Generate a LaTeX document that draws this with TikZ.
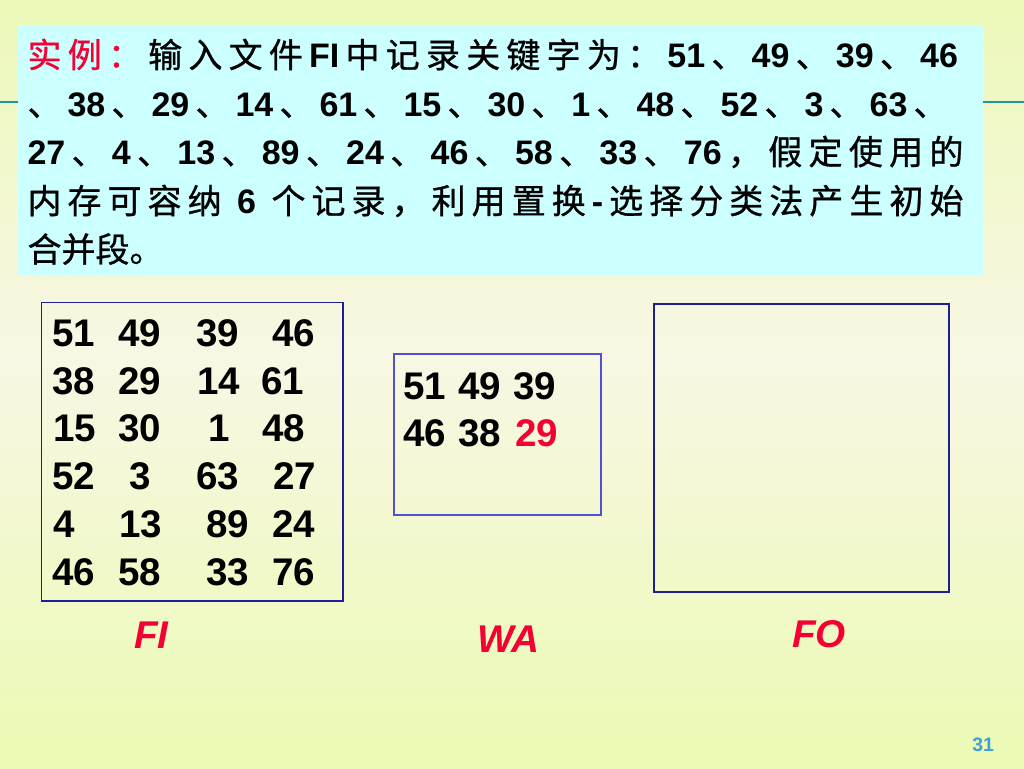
\documentclass[tikz,border=0pt]{standalone}
\usepackage{fontspec}
\setmainfont{Liberation Sans}
\newfontfamily\cjk{Noto Sans CJK SC}[FakeBold=0.8]
\newfontfamily\lsb{Liberation Sans}
\definecolor{tred}{RGB}{245,0,50}
\definecolor{cyanbg}{RGB}{204,255,255}
\definecolor{teal1}{RGB}{30,150,165}
\definecolor{boxblue}{RGB}{30,30,150}
\definecolor{wablue}{RGB}{80,80,210}
\definecolor{pgblue}{RGB}{60,160,220}
\definecolor{bgtop}{RGB}{226,250,150}
\definecolor{bgmid}{RGB}{248,247,228}
\definecolor{bgbot}{RGB}{226,252,148}
\pgfdeclareverticalshading{bgshade}{100bp}{color(0bp)=(bgbot); color(8bp)=(bgbot); color(52bp)=(bgmid); color(93bp)=(bgtop); color(100bp)=(bgtop)}
\newdimen\px \px=0.75pt
\newcommand\nb[1]{{\lsb\bfseries #1}}
\newcommand\rd[1]{{\color{tred}#1}}
\def\jtend{JTEND}
\def\jt#1{\jtA#1\jtend}
\def\jtA#1{#1\jtB}
\def\jtB#1{\ifx\jtend#1\else\hfil#1\expandafter\jtB\fi}
\tikzset{
  tline/.style={anchor=base west, inner sep=0pt, outer sep=0pt, font=\cjk\fontsize{25.5pt}{30pt}\selectfont},
  fnum/.style={anchor=base west, inner sep=0pt, outer sep=0pt, font=\lsb\bfseries\fontsize{28.9pt}{34pt}\selectfont},
  lbl/.style={anchor=base west, inner sep=0pt, outer sep=0pt, text=tred, font=\lsb\bfseries\itshape\fontsize{29pt}{34pt}\selectfont},
  frame/.style={draw=boxblue, line width=0.9pt, anchor=north west, inner sep=0pt, outer sep=0pt},
}
\begin{document}
\begin{tikzpicture}[x=0.75pt,y=-0.75pt]
\useasboundingbox (0,0) rectangle (1024,768);
\shade[shading=bgshade] (0,0) rectangle (1024,768);
% teal rule behind the title box
\coordinate (ruleL) at (0,102);
\coordinate (ruleR) at (1024,102);
\draw[teal1, line width=1.9pt] (ruleL) -- (ruleR);
% title box
\node[fill=cyanbg, anchor=north west, inner sep=0pt, outer sep=0pt,
      minimum width=965\px, minimum height=250\px] (titlebox) at (18,25) {};
\node[tline] (l1) at (27.5,67.5) {\makebox[930.5\px][s]{\jt{{\rd{实}}{\rd{例}}{\rd{：}}输入文件{\nb{FI}}中记录关键字为：{\nb{51}}、{\nb{49}}、{\nb{39}}、{\nb{46}}}}};
\node[tline] (l2) at (27.5,116) {\makebox[920\px][s]{\jt{、{\nb{38}}、{\nb{29}}、{\nb{14}}、{\nb{61}}、{\nb{15}}、{\nb{30}}、{\nb{1}}、{\nb{48}}、{\nb{52}}、{\nb{3}}、{\nb{63}}、}}};
\node[tline] (l3) at (27.5,164.5) {\makebox[936\px][s]{\jt{{\nb{27}}、{\nb{4}}、{\nb{13}}、{\nb{89}}、{\nb{24}}、{\nb{46}}、{\nb{58}}、{\nb{33}}、{\nb{76}}，假定使用的}}};
\node[tline] (l4) at (27.5,213.5) {\makebox[936\px][s]{\jt{内存可容纳{\nb{~6~}}个记录，利用置换{\nb{-}}选择分类法产生初始}}};
\node[tline] (l5) at (27.5,262) {合并段。};
% boxes
\node[frame, minimum width=301.5\px, minimum height=298.5\px] (fibox) at (41.5,302.5) {};
\node[frame, draw=wablue, minimum width=207\px, minimum height=161\px] (wabox) at (394,354) {};
\node[frame, minimum width=295\px, minimum height=288\px] (fobox) at (654,304) {};
% FI contents
\foreach \xx/\yy/\tt [count=\i] in {
  52.5/346.5/51, 118.5/346.5/49, 196.5/346.5/39, 272.5/346.5/46,
  52.5/394.2/38, 118.5/394.2/29, 197/394.2/14, 261.5/394.2/61,
  53/441.9/15, 118.5/441.9/30, 208.5/441.9/1, 262.5/441.9/48,
  52.5/489.6/52, 129.5/489.6/3, 196.5/489.6/63, 273.5/489.6/27,
  53/537.3/4, 119/537.3/13, 206.5/537.3/89, 272.5/537.3/24,
  52.5/585/46, 118.5/585/58, 206.5/585/33, 272.5/585/76}
  \node[fnum] (fi\i) at (\xx,\yy) {\tt};
% WA contents
\node[fnum] (wa1) at (403.5,399) {51};
\node[fnum] (wa2) at (458.5,399) {49};
\node[fnum] (wa3) at (513.5,399) {39};
\node[fnum] (wa4) at (403.5,446.7) {46};
\node[fnum] (wa5) at (458.5,446.7) {38};
\node[fnum, text=tred] (wa6) at (515,446.7) {29};
% labels
\node[lbl] (fiLbl) at (134,648) {FI};
\node[lbl] (waLbl) at (477,652) {WA};
\node[lbl] (foLbl) at (792,647) {FO};
\node[anchor=base west, inner sep=0pt, text=pgblue, font=\lsb\bfseries\fontsize{14.6pt}{17pt}\selectfont] (pg) at (972,751) {31};
\end{tikzpicture}
\end{document}
